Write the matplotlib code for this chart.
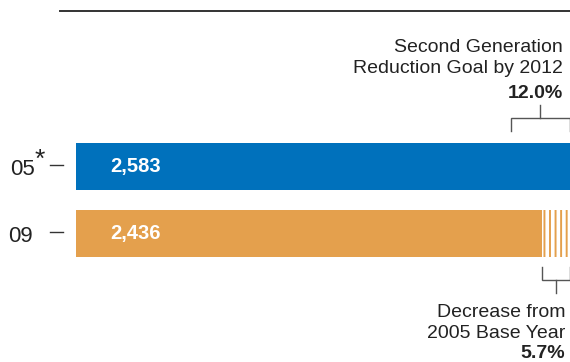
import matplotlib
matplotlib.use('Agg')
import matplotlib.pyplot as plt

plt.rcParams['font.family'] = ['Liberation Sans', 'DejaVu Sans']
plt.rcParams['hatch.linewidth'] = 2.6

years = ['05', '09']
emissions = [2583, 2436]
bar_colors = ['#0071bc', '#e4a04d']
goal_pct = 12.0
decrease_pct = 5.7

base = emissions[0]
goal = base * (1 - goal_pct / 100)

fig = plt.figure(figsize=(5.70, 3.62), dpi=100)
ax = fig.add_axes([76 / 570, 0, 494 / 570, 1])
ax.set_xlim(0, base)
ax.set_ylim(2.918, -2.485)
ax.axis('off')

ink = '#222222'

# bars
for i, (yr, v, c) in enumerate(zip(years, emissions, bar_colors)):
    ax.barh(i, v, height=0.70, color=c, linewidth=0)
    ax.text(base * 0.07, i + 0.08, f'{v:,}', color='white', fontsize=14.5,
            fontweight='bold', va='baseline', ha='left')

# striped part of the 09 bar = decrease from base year
ax.barh(1, base - emissions[1], left=emissions[1], height=0.70,
        color=bar_colors[1], edgecolor='white', linewidth=0, hatch='|||')

# year labels with little dashes
yt = ax.get_yaxis_transform()
ax.text(-0.083, 0.13, '05', transform=yt, ha='right', va='baseline',
        fontsize=16, color=ink)
ax.text(-0.083, -0.1, '*', transform=yt, ha='left', va='center',
        fontsize=19, color=ink)
ax.text(-0.087, 1.13, '09', transform=yt, ha='right', va='baseline',
        fontsize=16, color=ink)
for i in range(len(years)):
    ax.plot([-0.0526, -0.0263], [i - 0.02, i - 0.02], transform=yt,
            color='#333333', lw=1.0, clip_on=False)

# rule along the top
ax.plot([-16 / 494, 1], [-2.32, -2.32], transform=yt, color='#333333',
        lw=1.4, clip_on=False)

# goal bracket above the 05 bar
gc = '#555555'
tx = base * 0.985
ax.plot([goal, goal, base, base], [-0.53, -0.724, -0.724, -0.53],
        color=gc, lw=1.0, clip_on=False, solid_joinstyle='miter')
mid = (goal + base) / 2
ax.plot([mid, mid], [-0.724, -0.918], color=gc, lw=1.0, clip_on=False)
ax.text(tx, -1.713, 'Second Generation', ha='right', va='baseline',
        fontsize=14, color=ink)
ax.text(tx, -1.40, 'Reduction Goal by 2012', ha='right', va='baseline',
        fontsize=14, color=ink)
ax.text(tx, -1.022, f'{goal_pct:.1f}%', ha='right', va='baseline',
        fontsize=14, fontweight='bold', color=ink)

# decrease bracket below the 09 bar
lo = emissions[1]
tx2 = base * 0.99
ax.plot([lo, lo, base, base], [1.5, 1.694, 1.694, 1.5],
        color=gc, lw=1.0, clip_on=False, solid_joinstyle='miter')
mid2 = (lo + base) / 2
ax.plot([mid2, mid2], [1.694, 1.888], color=gc, lw=1.0, clip_on=False)
ax.text(tx2, 2.245, 'Decrease from', ha='right', va='baseline',
        fontsize=14, color=ink)
ax.text(tx2, 2.565, '2005 Base Year', ha='right', va='baseline',
        fontsize=14, color=ink)
ax.text(tx2, 2.855, f'{decrease_pct:.1f}%', ha='right', va='baseline',
        fontsize=14, fontweight='bold', color=ink)

fig.savefig('out.png', dpi=100)
